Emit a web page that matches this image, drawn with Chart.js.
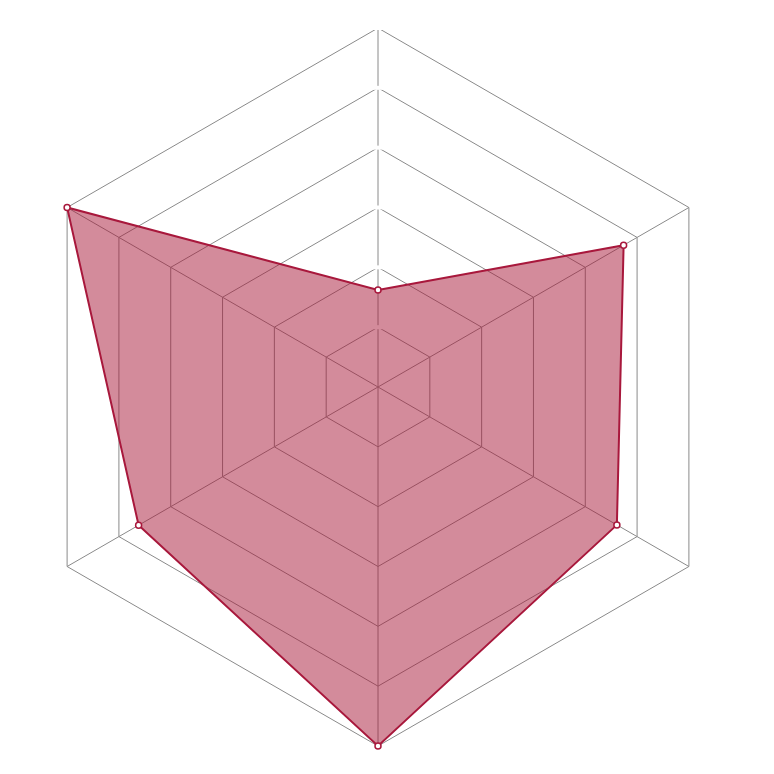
<!DOCTYPE html>
<html>
<head>
<meta charset="utf-8">
<script src="https://cdn.jsdelivr.net/npm/chart.js@4/dist/chart.umd.min.js"></script>
<style>
  html, body { margin: 0; padding: 0; background: #ffffff; }
  #chart { display: block; }
</style>
</head>
<body>
<canvas id="chart" width="774" height="774"></canvas>
<script>
// six spokes, clockwise from the top
const categories = ["A", "B", "C", "D", "E", "F"];
const seriesValues = [1.62, 4.74, 4.61, 6, 4.62, 6];
const tickValues = [0, 1, 2, 3, 4, 5, 6];

const lineColor = "#a8183c";
const fillColor = "rgba(168, 24, 56, 0.5)";
const gridColor = "#8a8a8a";

document.addEventListener("DOMContentLoaded", function () {
    const canvas = document.getElementById("chart");

    new Chart(canvas, {
        type: "radar",
        data: {
            labels: categories,
            datasets: [{
                data: seriesValues,
                borderColor: lineColor,
                backgroundColor: fillColor,
                borderWidth: 2,
                fill: true,
                pointRadius: 3,
                pointBorderWidth: 1.5,
                pointBackgroundColor: "#ffffff",
                pointBorderColor: lineColor
            }]
        },
        options: {
            responsive: false,
            animation: false,
            devicePixelRatio: 1,
            layout: { padding: { left: 10, right: 27, top: 26, bottom: 26 } },
            plugins: {
                legend: { display: false },
                tooltip: { enabled: false }
            },
            scales: {
                r: {
                    min: tickValues[0],
                    max: tickValues[tickValues.length - 1],
                    ticks: {
                        stepSize: 1,
                        callback: () => "",
                        color: "rgba(0,0,0,0)",
                        font: { size: 2 },
                        showLabelBackdrop: true,
                        backdropColor: "#ffffff",
                        backdropPadding: { x: 5, y: 1 }
                    },
                    grid: { color: gridColor, lineWidth: 1 },
                    angleLines: { color: gridColor, lineWidth: 1 },
                    pointLabels: { display: false }
                }
            }
        }
    });
});
</script>
</body>
</html>
